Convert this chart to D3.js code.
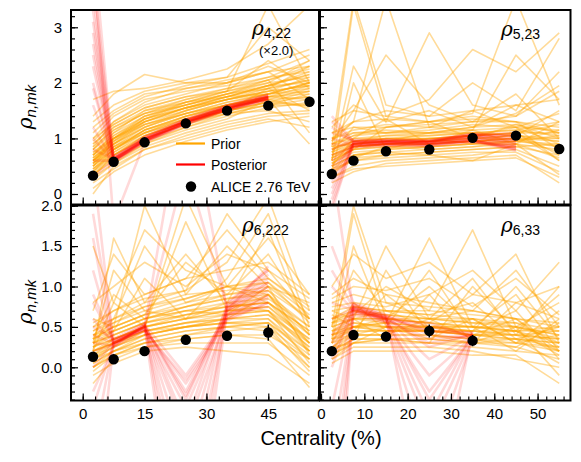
<!DOCTYPE html>
<html><head><meta charset="utf-8">
<script src="https://cdn.jsdelivr.net/npm/d3@7"></script>
<style>
html,body{margin:0;padding:0;background:#fff;}
text{font-family:"Liberation Sans",Arial,Helvetica,sans-serif;}
</style></head>
<body><svg id="c" width="581" height="462"></svg>
<script>
// ---------------- DATA ----------------
const centralityPrior = [2.5, 7.5, 15, 25, 35, 45, 55];
const centralityPost = [2.5, 7.5, 15, 25, 35, 45];
const centralityPost633 = [2.5, 7.5, 15, 25, 35];

const aliceX_top = [2.5, 7.5, 15, 25, 35, 45, 55];
const aliceX_622 = [2.5, 7.5, 15, 25, 35, 45];
const aliceX_633 = [2.5, 7.5, 15, 25, 35];

const alice_rho422 = [0.33, 0.58, 0.93, 1.27, 1.50, 1.59, 1.66];
const alice_rho422_err = [0.02, 0.02, 0.02, 0.02, 0.02, 0.03, 0.04];
const alice_rho523 = [0.36, 0.60, 0.77, 0.80, 1.01, 1.05, 0.81];
const alice_rho523_err = [0.03, 0.03, 0.03, 0.03, 0.04, 0.05, 0.07];
const alice_rho6222 = [0.13, 0.10, 0.20, 0.34, 0.39, 0.43];
const alice_rho6222_err = [0.03, 0.03, 0.03, 0.04, 0.06, 0.10];
const alice_rho633 = [0.20, 0.40, 0.38, 0.45, 0.33];
const alice_rho633_err = [0.04, 0.06, 0.06, 0.08, 0.07];

const prior_rho422 = [
[0.45,0.75,1.05,1.3,1.5,1.65,1.75],[0.55,0.85,1.15,1.4,1.6,1.75,1.85],[0.35,0.65,0.95,1.2,1.4,1.55,1.65],
[0.7,1.0,1.3,1.5,1.7,1.85,1.95],[0.6,0.95,1.25,1.45,1.6,1.7,1.9],[0.8,1.1,1.4,1.6,1.8,1.9,2.05],
[0.5,0.8,1.1,1.35,1.5,1.6,1.6],[0.9,1.25,1.55,1.75,1.85,2.0,2.1],[0.3,0.55,0.85,1.1,1.3,1.45,1.5],
[1.0,1.4,1.7,1.85,1.95,2.1,2.2],[0.65,0.9,1.2,1.45,1.65,1.8,2.0],[0.4,0.7,1.0,1.25,1.45,1.6,1.8],
[1.2,1.5,1.8,1.9,2.0,2.2,2.3],[0.75,1.05,1.35,1.55,1.7,1.8,1.85],[0.55,0.9,1.3,1.55,1.75,1.95,2.15],
[0.2,0.45,0.8,1.05,1.25,1.4,1.45],[1.4,1.8,2.15,2.0,2.0,2.2,2.5],[0.85,1.15,1.45,1.7,1.9,2.1,2.4],
[0.6,0.85,1.1,1.3,1.45,1.5,1.3],[0.1,0.4,0.7,0.95,1.15,1.3,1.4],[0.95,1.3,1.6,1.8,2.0,2.3,2.0],
[0.5,0.8,1.15,1.4,1.55,1.75,1.95],[0.7,1.1,1.5,1.7,1.85,2.4,1.9],[1.1,1.45,1.75,1.95,2.1,2.35,2.6],
[0.45,0.7,1.0,1.25,1.5,1.9,1.5],[0.8,1.2,1.5,1.65,1.75,1.8,2.0],[1.7,1.85,1.9,2.05,2.25,2.7,3.4],
[0.65,1.0,1.35,1.6,1.8,2.05,1.1],[0.35,0.6,0.9,1.15,1.35,1.7,0.9],[0.9,1.2,1.45,1.6,1.75,1.95,2.2],
[0.6,0.9,1.2,1.5,1.7,1.9,2.3],[1.3,1.6,1.85,2.0,2.1,3.0,2.4],[0.25,0.55,0.9,1.2,1.45,1.6,1.7],
[0.75,1.0,1.25,1.45,1.6,1.75,1.8],[0.5,0.95,1.35,1.65,1.85,3.4,2.0],[0.7,1.05,1.4,1.65,1.85,2.05,2.25],
[0.0,0.5,0.8,1.0,1.2,1.35,1.2],[0.85,1.3,1.65,1.9,2.05,2.2,1.7],[0.55,1.0,1.4,1.6,1.8,2.0,2.4],
[0.4,0.8,1.15,1.35,1.55,1.7,1.55],
[0.5,0.85,1.2,1.45,1.65,1.8,1.9],[0.6,0.9,1.25,1.5,1.7,1.85,2.1],[0.4,0.75,1.1,1.35,1.55,1.7,1.75],
[0.65,0.95,1.3,1.55,1.75,1.95,2.0],[0.3,0.7,1.05,1.3,1.5,1.65,1.85],[0.8,1.15,1.45,1.65,1.8,1.95,2.15],
[0.55,0.8,1.1,1.4,1.6,1.75,1.7],[0.45,0.8,1.15,1.4,1.6,1.8,2.0],[0.7,1.0,1.3,1.55,1.75,1.9,2.05],
[0.35,0.7,1.05,1.3,1.5,1.65,1.6],[1.0,1.25,1.55,1.75,1.9,2.05,2.3],[0.6,1.0,1.35,1.55,1.7,1.85,1.95]
];
const post_rho422 = [
[2.7,0.62,0.98,1.30,1.55,1.74],[1.9,0.60,0.96,1.28,1.52,1.72],[3.6,0.64,1.00,1.32,1.57,1.76],
[1.2,0.60,0.97,1.30,1.54,1.73],[0.8,0.63,0.99,1.31,1.56,1.75],[4.5,0.58,0.95,1.27,1.52,1.71],
[2.3,0.66,1.01,1.33,1.58,1.77],[0.3,0.61,0.97,1.29,1.54,1.73],[3.1,0.59,0.96,1.29,1.53,1.72],
[4.2,-0.5,0.93,1.27,1.52,1.72],[2.9,0.62,0.98,1.31,1.55,1.74],[1.6,0.61,0.97,1.30,1.55,1.73],
[2.0,0.57,0.93,1.25,1.50,1.69],[3.3,0.67,1.03,1.35,1.60,1.79],[1.0,0.59,0.94,1.26,1.51,1.70],
[2.5,0.65,1.02,1.34,1.59,1.78],[0.6,0.60,0.95,1.28,1.53,1.71],[3.9,0.63,1.00,1.32,1.57,1.76]
];

const prior_rho523 = [
[0.7,0.85,0.9,0.95,1.0,1.0,0.95],[0.55,0.75,0.8,0.85,0.9,0.95,0.85],[0.9,1.0,1.05,1.05,1.1,1.15,1.05],
[0.4,0.65,0.7,0.75,0.8,0.85,0.7],[1.1,1.2,1.2,1.25,1.3,1.3,1.2],[0.8,0.95,1.0,0.95,1.05,1.1,1.25],
[0.3,0.5,0.6,0.65,0.7,0.8,0.5],[1.0,1.3,1.5,1.4,1.5,1.6,1.7],[0.6,2.3,1.3,1.5,1.2,1.6,1.3],
[0.85,3.5,1.6,1.4,2.0,1.5,2.8],[0.5,0.7,0.75,0.7,0.6,0.9,1.3],[0.95,1.5,2.5,1.6,1.3,1.8,1.0],
[0.65,0.9,1.0,1.0,1.05,1.2,0.6],[0.45,0.6,0.65,0.7,0.75,0.75,0.4],[1.2,1.6,1.3,2.9,1.6,1.4,2.2],
[0.75,1.2,1.1,1.2,1.15,2.5,1.7],[0.3,0.45,0.5,0.55,0.6,0.65,0.3],[0.9,1.1,1.1,1.15,1.25,1.2,0.9],
[0.6,3.4,1.4,1.7,2.6,2.2,2.9],[1.3,1.5,1.4,1.3,1.45,3.5,1.6],[0.7,0.9,0.95,1.1,1.1,1.05,1.5],
[0.2,0.4,0.55,0.6,0.65,0.7,0.2],[1.0,1.15,1.25,1.2,1.3,1.4,1.85],[0.55,0.85,0.9,0.9,0.95,1.0,0.75],
[0.85,1.05,1.2,1.3,1.4,1.3,1.1],[0.4,2.0,0.8,1.0,0.9,1.1,0.6],[0.95,1.3,3.5,1.2,1.5,1.2,1.45],
[0.6,0.8,1.2,1.3,1.0,1.25,1.1],[0.5,1.0,1.35,0.9,1.15,0.9,0.35],[0.8,0.95,1.05,1.1,1.2,1.45,1.95],
[1.1,1.3,1.35,1.3,1.35,1.3,0.8],[0.35,0.65,0.85,0.8,0.85,0.95,1.15],[0.75,0.9,0.95,1.0,1.0,1.05,1.0],
[0.65,0.8,0.9,0.9,0.95,0.95,0.9],
[0.6,0.8,0.85,0.9,0.95,1.0,1.0],[0.75,0.95,1.0,1.0,1.05,1.1,1.1],[0.5,0.7,0.8,0.85,0.9,0.9,0.8],
[0.9,1.05,1.1,1.1,1.15,1.2,1.15],[0.65,0.85,0.9,0.95,1.0,1.05,0.95],[0.45,0.7,0.75,0.8,0.85,0.9,0.65],
[0.8,1.0,1.0,1.05,1.1,1.15,1.3],[0.7,0.85,0.9,0.95,0.95,1.0,0.85],[1.0,1.1,1.15,1.1,1.2,1.25,1.0],
[0.55,0.8,0.85,0.85,0.9,0.95,1.05],[0.85,0.9,0.95,1.0,1.05,1.1,0.7],[0.4,0.6,0.7,0.75,0.8,0.85,0.9]
];
const post_rho523 = [
[0.6,0.90,0.93,0.92,1.00,0.95],[1.2,0.92,0.94,0.93,1.02,0.90],[0.2,0.88,0.92,0.91,0.98,0.85],
[-0.3,0.93,0.95,0.94,1.05,1.00],[0.9,0.87,0.90,0.90,0.97,0.80],[1.4,0.95,0.96,0.95,1.06,1.05],
[0.0,0.90,0.91,0.90,0.95,0.78],[0.4,0.91,0.93,0.93,1.03,0.92],[1.0,0.89,0.92,0.92,0.99,0.88],
[-0.1,0.94,0.94,0.94,1.04,0.98],[0.7,0.86,0.90,0.89,0.96,0.82],[0.3,0.92,0.95,0.95,1.08,1.10],
[0.5,0.84,0.87,0.86,0.93,0.84],[1.1,0.97,0.98,0.97,1.09,1.03],[0.1,0.85,0.88,0.88,0.95,0.86],
[0.8,0.96,0.97,0.96,1.07,0.96],[-0.2,0.88,0.89,0.88,0.96,0.80],[1.3,0.94,0.97,0.96,1.06,1.07]
];

const prior_rho6222 = [
[0.1,0.2,0.3,0.35,0.4,0.4,0.1],[0.2,0.3,0.45,0.55,0.6,0.65,0.3],[0.0,0.15,0.25,0.3,0.3,0.3,-0.1],
[0.3,0.4,0.55,0.7,0.8,0.85,0.5],[0.15,0.25,0.4,0.5,0.55,0.6,0.2],[0.4,0.55,0.7,0.85,1.0,1.1,0.7],
[-0.1,0.05,0.2,0.25,0.2,0.15,-0.2],[0.25,0.35,0.5,0.6,0.7,0.75,0.35],[0.5,0.7,0.9,1.1,1.2,1.3,0.9],
[0.05,0.2,0.35,0.45,0.5,0.45,0.0],[0.35,0.9,0.6,0.75,0.9,1.0,0.6],[0.2,1.6,0.8,1.4,0.8,1.7,0.4],
[0.6,0.5,2.0,0.9,1.5,1.0,0.8],[0.1,0.3,0.5,1.8,0.7,0.9,0.2],[0.45,0.6,0.8,0.95,1.9,1.2,0.85],
[-0.2,0.1,0.25,0.35,0.4,0.35,-0.25],[0.3,1.2,0.7,0.6,1.1,1.9,0.5],[0.8,1.0,1.3,1.0,1.4,1.2,0.6],
[0.15,0.35,0.5,0.65,0.75,0.8,0.3],[0.25,0.45,1.1,0.6,0.8,0.7,0.05],[1.5,0.8,1.7,1.2,1.0,1.6,0.9],
[0.0,0.2,0.4,0.5,0.55,0.5,0.1],[0.35,0.5,0.65,1.3,0.9,1.4,0.6],[0.55,0.7,0.85,0.95,1.3,2.1,0.7],
[0.1,0.25,0.45,0.55,0.65,0.7,0.25],[0.2,0.8,0.5,2.1,1.0,0.9,0.4],[0.4,0.45,0.6,0.7,0.65,1.0,0.15],
[0.7,1.4,0.9,1.1,1.7,1.1,0.75],[-0.05,0.15,0.3,0.4,0.45,0.5,-0.05],[0.3,0.6,1.5,0.8,1.0,0.8,0.45],
[0.45,0.55,0.75,0.9,0.95,1.05,0.55],[0.2,0.3,0.45,0.5,0.6,0.9,0.3],[0.25,0.4,0.55,0.65,0.7,0.7,0.2],
[0.35,0.45,0.6,0.75,0.85,0.95,0.4],
[0.15,0.3,0.45,0.55,0.6,0.65,0.25],[0.25,0.35,0.5,0.6,0.65,0.7,0.35],[0.05,0.2,0.35,0.45,0.5,0.55,0.15],
[0.3,0.45,0.6,0.7,0.75,0.8,0.45],[0.2,0.3,0.4,0.5,0.55,0.55,0.2],[0.35,0.5,0.65,0.75,0.85,0.9,0.5],
[0.1,0.25,0.4,0.5,0.6,0.6,0.1],[0.4,0.5,0.65,0.8,0.9,0.95,0.6],[0.2,0.35,0.5,0.6,0.7,0.75,0.3],
[0.3,0.4,0.55,0.65,0.75,0.8,0.4],[0.0,0.15,0.3,0.4,0.5,0.55,0.0],[0.5,0.6,0.75,0.85,1.0,1.05,0.65]
];
const post_rho6222 = [
[1.2,0.30,0.50,-0.30,0.70,1.00],[0.2,0.28,0.48,-0.80,0.65,0.90],[-1.0,0.32,0.52,-1.50,0.75,1.10],
[1.6,0.25,0.45,-0.15,0.60,0.80],[0.5,0.35,0.55,-2.50,0.80,1.20],[-0.5,0.30,0.47,-0.50,0.68,0.95],
[2.5,0.27,0.50,-1.10,0.72,1.05],[0.8,0.33,0.53,-0.10,0.62,0.85],[-2.0,0.29,0.49,-3.00,0.70,1.25],
[0.0,0.31,0.51,-0.35,0.66,0.75],[0.4,0.30,0.50,3.50,0.70,1.00],[0.6,0.30,0.50,2.50,0.75,1.15],
[0.9,0.33,0.47,-0.20,0.58,0.80],[-0.3,0.26,0.53,-0.70,0.78,1.20],[1.9,0.35,0.46,-1.80,0.64,0.88],
[0.3,0.27,0.52,-0.40,0.74,1.05]
];

const prior_rho633 = [
[0.3,0.4,0.4,0.4,0.35,0.3,0.25],[0.45,0.55,0.5,0.5,0.45,0.4,0.35],[0.15,0.3,0.3,0.3,0.25,0.2,0.15],
[0.6,0.7,0.65,0.6,0.55,0.5,0.4],[0.2,0.35,0.35,0.35,0.3,0.35,0.5],[0.5,1.2,0.7,0.5,0.6,0.3,0.7],
[0.8,0.9,0.8,0.75,0.7,0.6,0.5],[0.1,0.25,0.25,0.25,0.2,0.1,0.0],[0.35,1.9,0.6,1.0,0.5,0.9,0.2],
[0.7,0.6,1.5,0.6,1.1,0.4,1.0],[0.25,0.45,0.45,0.5,0.4,0.45,0.2],[0.4,0.5,0.55,1.6,0.5,0.2,0.6],
[0.9,1.1,0.9,0.8,0.7,1.2,0.5],[0.05,0.2,0.2,0.2,0.15,0.15,-0.2],[0.55,0.65,1.0,0.7,1.7,0.5,0.8],
[0.3,0.8,0.45,0.45,0.45,0.7,0.1],[0.65,0.5,0.6,0.55,0.9,1.4,0.3],[0.2,0.4,0.4,0.6,0.35,0.25,0.55],
[1.0,1.4,1.1,1.3,0.9,0.8,1.0],[0.45,0.6,0.7,0.65,0.6,0.55,0.3],[0.15,0.35,1.2,0.4,0.3,0.5,-0.1],
[0.75,0.8,0.75,0.9,1.2,0.7,1.3],[0.35,0.5,0.5,0.45,0.4,0.4,0.45],[0.5,2.0,0.8,0.6,0.7,0.6,0.2],
[0.25,0.3,0.35,0.9,0.3,0.8,0.6],[0.6,0.75,0.7,0.65,0.8,0.35,0.05],[0.1,0.3,0.5,0.35,0.6,0.3,0.4],
[0.85,1.0,0.95,1.1,0.75,1.1,0.65],[0.4,0.45,0.9,0.5,0.45,1.0,0.35],[0.2,0.6,0.35,0.3,1.0,0.45,0.9],
[0.55,0.6,0.6,0.55,0.5,0.45,0.15],[0.3,1.5,0.5,1.2,0.4,0.6,0.25],[0.4,0.5,0.45,0.45,0.4,0.35,0.3],
[0.5,0.6,0.55,0.5,0.5,0.45,0.45],
[0.35,0.45,0.45,0.45,0.4,0.4,0.35],[0.25,0.4,0.4,0.4,0.35,0.35,0.25],[0.5,0.6,0.6,0.55,0.5,0.5,0.4],
[0.4,0.55,0.5,0.5,0.45,0.45,0.3],[0.2,0.35,0.35,0.35,0.3,0.3,0.2],[0.6,0.65,0.65,0.6,0.55,0.55,0.45],
[0.3,0.5,0.45,0.45,0.4,0.35,0.3],[0.45,0.5,0.55,0.5,0.5,0.45,0.5],[0.15,0.3,0.35,0.3,0.3,0.25,0.1],
[0.55,0.7,0.6,0.6,0.6,0.5,0.35],[0.35,0.4,0.5,0.45,0.45,0.4,0.2],[0.7,0.75,0.7,0.7,0.65,0.6,0.55]
];
const post_rho633 = [
[0.2,0.75,0.62,0.45,0.40],[-1.0,0.70,0.58,-0.30,0.38],[1.5,0.80,0.65,0.50,0.42],
[-2.0,0.65,0.55,-1.20,0.35],[0.6,0.72,0.60,0.30,0.40],[-0.5,0.78,0.63,-2.00,0.44],
[2.5,0.68,0.57,0.55,0.37],[0.0,0.74,0.61,0.10,0.39],[1.0,0.70,0.60,-0.60,0.41],
[-3.0,0.76,0.64,0.40,0.36],[0.4,0.73,0.60,0.35,0.40],[0.8,0.71,0.59,-0.10,0.38],
[0.3,0.78,0.60,-0.40,0.39],[-1.5,0.67,0.62,0.25,0.41],[1.2,0.74,0.56,-0.80,0.37],
[0.1,0.72,0.63,0.45,0.43]
];

const yTicksTopMajor = [0, 1, 2, 3];
const yTicksBotMajor = [0.0, 0.5, 1.0, 1.5, 2.0];
const xTicksLeftMajor = [0, 15, 30, 45];
const xTicksRightMajor = [0, 10, 20, 30, 40, 50];
const legendLabels = ["Prior", "Posterior", "ALICE 2.76 TeV"];

// ---------------- LAYOUT ----------------
const svg = d3.select("#c");
const ORANGE = "#FFA500", RED = "#FF0000";
const colX = [[71, 319], [320, 570.5]];
const rowY = [[10, 204.5], [205.5, 400.5]];
const xDomains = [[-2.84, 57.3], [-0.23, 57.6]];
const yDomains = [[-0.189, 3.311], [-0.411, 2.0025]];

const panels = [
  {r:0,c:0,id:"p1",prior:prior_rho422,post:post_rho422,postX:centralityPost,ax:aliceX_top,ay:alice_rho422,ae:alice_rho422_err,lab:"4,22",lx:252,ly:35,extra:"(×2.0)"},
  {r:0,c:1,id:"p2",prior:prior_rho523,post:post_rho523,postX:centralityPost,ax:aliceX_top,ay:alice_rho523,ae:alice_rho523_err,lab:"5,23",lx:501,ly:36},
  {r:1,c:0,id:"p3",prior:prior_rho6222,post:post_rho6222,postX:centralityPost,ax:aliceX_622,ay:alice_rho6222,ae:alice_rho6222_err,lab:"6,222",lx:242,ly:232},
  {r:1,c:1,id:"p4",prior:prior_rho633,post:post_rho633,postX:centralityPost633,ax:aliceX_633,ay:alice_rho633,ae:alice_rho633_err,lab:"6,33",lx:501,ly:232}
];

const defs = svg.append("defs");

panels.forEach(p => {
  const [x0, x1] = colX[p.c], [y0, y1] = rowY[p.r];
  const x = d3.scaleLinear().domain(xDomains[p.c]).range([x0, x1]);
  const y = d3.scaleLinear().domain(yDomains[p.r]).range([y1, y0]);
  defs.append("clipPath").attr("id", "clip" + p.id)
    .append("rect").attr("x", x0).attr("y", y0).attr("width", x1 - x0).attr("height", y1 - y0);
  const g = svg.append("g").attr("clip-path", `url(#clip${p.id})`);

  const linePrior = d3.line().x((d, i) => x(centralityPrior[i])).y(d => y(d));
  const linePost = d3.line().x((d, i) => x(p.postX[i])).y(d => y(d));

  g.selectAll(".prior").data(p.prior).join("path")
    .attr("d", linePrior).attr("fill", "none").attr("stroke", ORANGE)
    .attr("stroke-width", 1.6).attr("stroke-opacity", 0.4).attr("stroke-linejoin", "round");
  g.selectAll(".post").data(p.post).join("path")
    .attr("d", linePost).attr("fill", "none").attr("stroke", RED)
    .attr("stroke-width", 2.6).attr("stroke-opacity", 0.15).attr("stroke-linejoin", "round");

  // error bars + points
  const pts = p.ax.map((v, i) => ({x: v, y: p.ay[i], e: p.ae[i]}));
  g.selectAll(".eb").data(pts).join("line")
    .attr("x1", d => x(d.x)).attr("x2", d => x(d.x))
    .attr("y1", d => y(d.y - d.e)).attr("y2", d => y(d.y + d.e))
    .attr("stroke", "#000").attr("stroke-width", 1.5);
  svg.selectAll(".pt" + p.id).data(pts).join("circle")
    .attr("cx", d => x(d.x)).attr("cy", d => y(d.y)).attr("r", 5.2).attr("fill", "#000");

  // axes (inward ticks)
  const xMaj = p.c === 0 ? xTicksLeftMajor : xTicksRightMajor;
  const xMinStep = p.c === 0 ? 3 : 2;
  const xMin = d3.range(0, 57.01, xMinStep);
  const yMaj = p.r === 0 ? yTicksTopMajor : yTicksBotMajor;
  const yMinStep = p.r === 0 ? 0.2 : 0.1;
  const yMin = d3.range(Math.ceil(yDomains[p.r][0] / yMinStep) * yMinStep, yDomains[p.r][1] + 1e-6, yMinStep);

  const ax = svg.append("g").attr("transform", `translate(0,${y1})`);
  ax.call(d3.axisBottom(x).tickValues(xMin).tickSize(-4).tickFormat(""));
  const axM = svg.append("g").attr("transform", `translate(0,${y1})`);
  axM.call(d3.axisBottom(x).tickValues(xMaj).tickSize(-7).tickPadding(8)
      .tickFormat(p.r === 1 ? d3.format("d") : () => ""));
  const ay = svg.append("g").attr("transform", `translate(${x0},0)`);
  ay.call(d3.axisLeft(y).tickValues(yMin).tickSize(-4).tickFormat(""));
  const ayM = svg.append("g").attr("transform", `translate(${x0},0)`);
  ayM.call(d3.axisLeft(y).tickValues(yMaj).tickSize(-7).tickPadding(9)
      .tickFormat(p.c === 0 ? (p.r === 0 ? d3.format("d") : d3.format(".1f")) : () => ""));
  [ax, axM, ay, ayM].forEach(a => {
    a.select(".domain").remove();
    a.selectAll(".tick line").attr("stroke", "#000").attr("stroke-width", 1.2);
    a.selectAll(".tick text").attr("font-size", 15).attr("fill", "#000")
      .attr("font-family", '"Liberation Sans", Arial, sans-serif');
  });

  // frame
  svg.append("rect").attr("x", x0).attr("y", y0).attr("width", x1 - x0).attr("height", y1 - y0)
    .attr("fill", "none").attr("stroke", "#000").attr("stroke-width", 2);

  // panel label
  const t = svg.append("text").attr("x", p.lx).attr("y", p.ly).attr("fill", "#000");
  t.append("tspan").attr("font-style", "italic").attr("font-size", 20).attr("font-family", '"DejaVu Serif", serif').text("ρ");
  t.append("tspan").attr("font-size", 14).attr("dy", 3).text(p.lab);
  if (p.extra) {
    svg.append("text").attr("x", 259).attr("y", 55).attr("font-size", 13).attr("fill", "#000").text(p.extra);
  }
});

// y axis titles
[107, 302].forEach(cy => {
  const t = svg.append("text").attr("transform", `translate(32,${cy}) rotate(-90)`)
    .attr("text-anchor", "middle").attr("fill", "#000");
  t.append("tspan").attr("font-style", "italic").attr("font-size", 20).attr("font-family", '"DejaVu Serif", serif').text("ρ");
  t.append("tspan").attr("font-style", "italic").attr("font-size", 15).attr("dy", 4).text("n,mk");
});

// x axis title
svg.append("text").attr("x", 321).attr("y", 445).attr("text-anchor", "middle")
  .attr("font-size", 20).attr("fill", "#000").text("Centrality (%)");

// legend
const lg = svg.append("g");
const legY = [143.5, 164.5, 186.5];
lg.append("line").attr("x1", 176).attr("x2", 205).attr("y1", legY[0]).attr("y2", legY[0]).attr("stroke", ORANGE).attr("stroke-width", 2.2);
lg.append("line").attr("x1", 176).attr("x2", 205).attr("y1", legY[1]).attr("y2", legY[1]).attr("stroke", RED).attr("stroke-width", 2.2);
lg.append("circle").attr("cx", 191).attr("cy", legY[2]).attr("r", 5.2).attr("fill", "#000");
legendLabels.forEach((s, i) => {
  lg.append("text").attr("x", 211).attr("y", legY[i] + 5).attr("font-size", 14).attr("fill", "#000").text(s);
});
</script>
</body></html>
